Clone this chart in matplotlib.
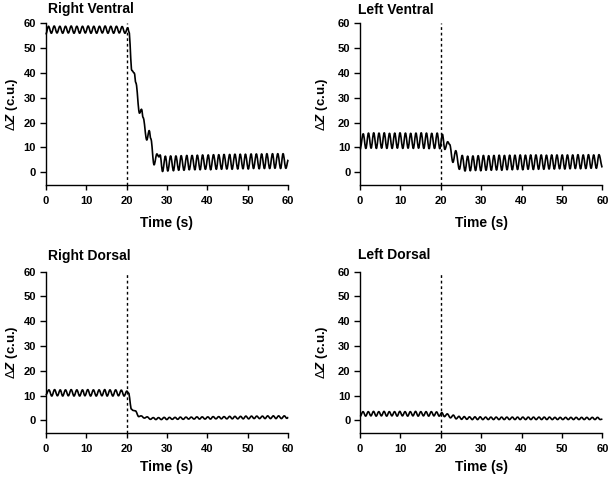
import matplotlib
matplotlib.use('Agg')
import matplotlib.pyplot as plt
from matplotlib.path import Path
from matplotlib.patches import PathPatch

plt.rcParams['font.family'] = ['Liberation Sans', 'DejaVu Sans']
plt.rcParams['mathtext.fontset'] = 'custom'
plt.rcParams['mathtext.rm'] = 'Liberation Sans'
plt.rcParams['mathtext.it'] = 'Liberation Sans:italic:bold'
plt.rcParams['mathtext.bf'] = 'Liberation Sans:bold'

# ---------------- data (extrema) ----------------
titles = ['Right Ventral', 'Left Ventral', 'Right Dorsal', 'Left Dorsal']
x_ticks = [0, 10, 20, 30, 40, 50, 60]
y_ticks = [0, 10, 20, 30, 40, 50, 60]
stim_time = 20

t_rv = [0.0, 0.7, 1.4, 2.1, 2.8, 3.5, 4.2, 4.9, 5.6, 6.3, 7.0, 7.7, 8.4, 9.1, 9.8,
        10.5, 11.2, 11.9, 12.6, 13.3, 14.0, 14.7, 15.4, 16.1, 16.8, 17.5, 18.2, 18.9,
        19.6, 20.3,
        20.6, 21.3, 21.9, 22.3, 23.2, 23.7, 24.1, 25.0, 25.6, 26.0, 26.8, 27.5, 28.0, 28.3,
        28.9, 29.6, 30.2, 30.9, 31.6, 32.2, 32.9, 33.5, 34.2, 34.9, 35.5, 36.2, 36.9, 37.5,
        38.2, 38.8, 39.5, 40.2, 40.8, 41.5, 42.2, 42.8, 43.5, 44.1, 44.8, 45.5, 46.1, 46.8,
        47.5, 48.1, 48.8, 49.4, 50.1, 50.8, 51.4, 52.1, 52.8, 53.4, 54.1, 54.7, 55.4, 56.1,
        56.7, 57.4, 58.1, 58.7, 59.4, 60.0]
z_rv = [55.5, 58.8, 56.0, 58.9, 56.1, 58.8, 56.0, 58.8, 56.1, 58.9, 56.0, 58.8, 56.0, 58.8, 56.1,
        58.9, 56.0, 58.8, 56.0, 58.8, 56.1, 58.9, 56.0, 58.8, 56.0, 58.8, 56.1, 58.7,
        56.0, 58.2,
        56.5, 41.0, 40.0, 36.0, 23.8, 25.4, 22.0, 13.0, 16.8, 13.5, 3.0, 7.4, 6.2, 7.0,
        0.3, 6.5, 0.5, 6.6, 0.6, 6.6, 0.8, 6.7, 0.8, 6.8, 1.0, 6.8, 1.0, 6.9,
        1.0, 7.0, 1.2, 7.0, 1.0, 7.1, 1.2, 7.1, 1.2, 7.2, 1.3, 7.2, 1.2, 7.3,
        1.3, 7.3, 1.4, 7.3, 1.3, 7.4, 1.5, 7.4, 1.4, 7.4, 1.5, 7.5, 1.5, 7.5,
        1.6, 7.5, 1.5, 7.5, 1.6, 5.0]

t_lv = [0.0, 0.8, 1.45, 2.1, 2.75, 3.4, 4.05, 4.7, 5.35, 6.0, 6.65, 7.3, 7.95, 8.6, 9.25,
        9.9, 10.6, 11.25, 11.9, 12.55, 13.2, 13.85, 14.5, 15.15, 15.8, 16.45, 17.1, 17.75,
        18.45, 19.1, 19.75, 20.4,
        21.0, 21.7, 22.2, 23.0, 23.7, 24.6, 25.3,
        26.0, 26.65, 27.3, 27.95, 28.6, 29.25, 29.9, 30.55, 31.2, 31.85, 32.5, 33.15, 33.8,
        34.45, 35.1, 35.75, 36.4, 37.05, 37.7, 38.35, 39.0, 39.65, 40.3, 40.95, 41.6, 42.25,
        42.9, 43.55, 44.2, 44.85, 45.5, 46.15, 46.8, 47.45, 48.1, 48.75, 49.4, 50.05, 50.7,
        51.35, 52.0, 52.65, 53.3, 53.95, 54.6, 55.25, 55.9, 56.55, 57.2, 57.85, 58.5, 59.15,
        60.0]
z_lv = [9.2, 15.5, 9.6, 15.8, 9.7, 15.9, 9.6, 15.8, 9.7, 15.9, 9.6, 15.7, 9.6, 15.8, 9.7,
        15.9, 9.6, 15.8, 9.7, 15.7, 9.6, 15.8, 9.7, 15.9, 9.6, 15.8, 9.5, 15.7,
        9.6, 15.8, 9.5, 15.3,
        9.2, 12.3, 11.2, 4.0, 8.7, 1.2, 6.8,
        0.5, 6.5, 0.6, 6.6, 0.7, 6.7, 0.6, 6.8, 0.8, 6.7, 0.8, 6.8, 0.9,
        6.9, 0.8, 6.8, 1.0, 6.9, 1.0, 6.9, 1.1, 7.0, 1.0, 6.9, 1.2, 7.0,
        1.1, 7.0, 1.2, 7.0, 1.2, 6.9, 1.3, 7.0, 1.3, 7.0, 1.4, 7.0, 1.3,
        7.0, 1.4, 7.0, 1.5, 7.1, 1.4, 7.0, 1.5, 7.1, 1.6, 7.0, 1.6, 7.1,
        2.0]

t_rd = [0.0, 0.8, 1.5, 2.2, 2.9, 3.6, 4.2, 4.9, 5.6, 6.3, 7.0, 7.7, 8.4, 9.1, 9.7,
        10.4, 11.1, 11.8, 12.5, 13.2, 13.9, 14.6, 15.2, 15.9, 16.6, 17.3, 18.0, 18.7,
        19.4, 20.05,
        20.5, 21.2, 21.6, 22.2, 23.0, 23.6, 24.4, 25.1,
        25.9, 26.6, 27.25, 27.9, 28.6, 29.3, 29.95, 30.6, 31.3, 32.0, 32.65, 33.3, 34.0,
        34.7, 35.35, 36.0, 36.7, 37.4, 38.05, 38.7, 39.4, 40.1, 40.75, 41.4, 42.1, 42.8,
        43.45, 44.1, 44.8, 45.5, 46.15, 46.8, 47.5, 48.2, 48.85, 49.5, 50.2, 50.9, 51.55,
        52.2, 52.9, 53.6, 54.25, 54.9, 55.6, 56.3, 56.95, 57.6, 58.3, 59.0, 59.65, 60.0]
z_rd = [10.2, 12.3, 9.8, 12.4, 9.9, 12.3, 9.8, 12.3, 9.9, 12.4, 9.8, 12.3, 9.8, 12.3, 9.9,
        12.4, 9.8, 12.3, 9.8, 12.3, 9.9, 12.4, 9.8, 12.3, 9.8, 12.3, 9.9, 12.2,
        9.8, 11.8,
        11.0, 4.5, 4.0, 3.8, 1.5, 1.8, 0.9, 1.4,
        0.4, 1.1, 0.3, 1.1, 0.3, 1.2, 0.3, 1.2, 0.4, 1.2, 0.4, 1.3, 0.4,
        1.3, 0.5, 1.3, 0.5, 1.4, 0.5, 1.4, 0.5, 1.4, 0.5, 1.5, 0.6, 1.5,
        0.6, 1.5, 0.6, 1.6, 0.6, 1.6, 0.6, 1.6, 0.6, 1.7, 0.6, 1.7, 0.7,
        1.7, 0.7, 1.7, 0.7, 1.8, 0.7, 1.8, 0.7, 1.8, 0.7, 1.8, 0.8, 1.2]

t_ld = [0.0, 0.75, 1.4, 2.05, 2.7, 3.35, 4.0, 4.65, 5.3, 5.95, 6.6, 7.25, 7.9, 8.55, 9.2,
        9.85, 10.5, 11.15, 11.8, 12.45, 13.1, 13.75, 14.4, 15.05, 15.7, 16.35, 17.0, 17.65,
        18.3, 18.95, 19.6, 20.25,
        20.9, 21.6, 22.4, 23.1, 23.8, 24.5,
        25.15, 25.8, 26.45, 27.1, 27.8, 28.45, 29.1, 29.75, 30.4, 31.1, 31.75, 32.4, 33.05,
        33.7, 34.4, 35.05, 35.7, 36.35, 37.0, 37.7, 38.35, 39.0, 39.65, 40.3, 41.0, 41.65,
        42.3, 42.95, 43.6, 44.3, 44.95, 45.6, 46.25, 46.9, 47.6, 48.25, 48.9, 49.55, 50.2,
        50.9, 51.55, 52.2, 52.85, 53.5, 54.2, 54.85, 55.5, 56.15, 56.8, 57.5, 58.15, 58.8,
        59.45, 60.0]
z_ld = [1.5, 3.5, 1.7, 3.5, 1.8, 3.6, 1.7, 3.5, 1.8, 3.6, 1.7, 3.5, 1.8, 3.5, 1.7,
        3.6, 1.8, 3.5, 1.7, 3.5, 1.8, 3.6, 1.7, 3.5, 1.8, 3.5, 1.7, 3.5,
        1.8, 3.4, 1.7, 3.1,
        1.5, 2.6, 1.0, 2.1, 0.6, 1.6,
        0.4, 1.5, 0.4, 1.4, 0.3, 1.4, 0.3, 1.4, 0.3, 1.3, 0.3, 1.3, 0.3,
        1.3, 0.3, 1.3, 0.3, 1.3, 0.3, 1.3, 0.3, 1.3, 0.3, 1.3, 0.3, 1.3,
        0.3, 1.3, 0.3, 1.3, 0.3, 1.3, 0.3, 1.3, 0.3, 1.2, 0.3, 1.2, 0.3,
        1.2, 0.3, 1.2, 0.3, 1.2, 0.3, 1.2, 0.3, 1.2, 0.3, 1.2, 0.3, 1.2,
        0.3, 0.5]

series = [(t_rv, z_rv), (t_lv, z_lv), (t_rd, z_rd), (t_ld, z_ld)]


def smooth_path(tt, zz, k=0.36):
    """Cubic Bezier path through the extrema with horizontal tangents."""
    verts = [(tt[0], zz[0])]
    codes = [Path.MOVETO]
    for j in range(1, len(tt)):
        d = (tt[j] - tt[j - 1]) * k
        verts += [(tt[j - 1] + d, zz[j - 1]), (tt[j] - d, zz[j]), (tt[j], zz[j])]
        codes += [Path.CURVE4] * 3
    return Path(verts, codes)


# ---------------- layout (pixel based) ----------------
W, H = 610, 478
fig = plt.figure(figsize=(W / 100, H / 100), dpi=100)

# axes boxes: (left px, right px, top px (y=60), bottom px (y=-5))
boxes = [(45.7, 288.3, 23.3, 184.7),
         (360.0, 602.4, 23.3, 184.7),
         (45.7, 288.3, 271.7, 432.7),
         (360.0, 602.4, 271.7, 432.7)]
title_pos = [(48, 13.5), (358, 13.5), (48, 260), (358, 259)]
xlabel_base = [226.5, 226.5, 471.5, 471.5]
ylabel_x = [11.5, 321.5, 12.5, 322.5]

for i, (ttl, (tt, zz)) in enumerate(zip(titles, series)):
    l, r, tp, bt = boxes[i]
    ax = fig.add_axes([l / W, 1 - bt / H, (r - l) / W, (bt - tp) / H])
    ax.add_patch(PathPatch(smooth_path(tt, zz), facecolor='none', edgecolor='black',
                           lw=1.2, clip_on=False, joinstyle='round'))
    ax.axvline(stim_time, color='black', lw=1.0, linestyle=(0, (2, 2)))
    ax.set_xlim(0, 60)
    ax.set_ylim(-5, 60)
    ax.set_xticks(x_ticks)
    ax.set_yticks(y_ticks)
    for s in ['top', 'right']:
        ax.spines[s].set_visible(False)
    for s in ['left', 'bottom']:
        ax.spines[s].set_linewidth(1.0)
    ax.tick_params(axis='both', direction='out', length=4.3, width=1.0,
                   labelsize=8, pad=2.6)
    ax.tick_params(axis='x', pad=4.2, length=3.8)
    for lab in ax.get_xticklabels() + ax.get_yticklabels():
        lab.set_fontweight('bold')
    fig.text(title_pos[i][0] / W, 1 - title_pos[i][1] / H, ttl, fontsize=10,
             fontweight='bold', ha='left', va='baseline')
    fig.text((l + r) / 2 / W, 1 - xlabel_base[i] / H, 'Time (s)', fontsize=10,
             fontweight='bold', ha='center', va='baseline')
    fig.text(ylabel_x[i] / W, 1 - (tp + bt) / 2 / H, r'$\Delta\mathit{Z}$ (c.u.)',
             fontsize=9.5, fontweight='bold', rotation=90, ha='center', va='center')

fig.savefig('out.png', dpi=100)
